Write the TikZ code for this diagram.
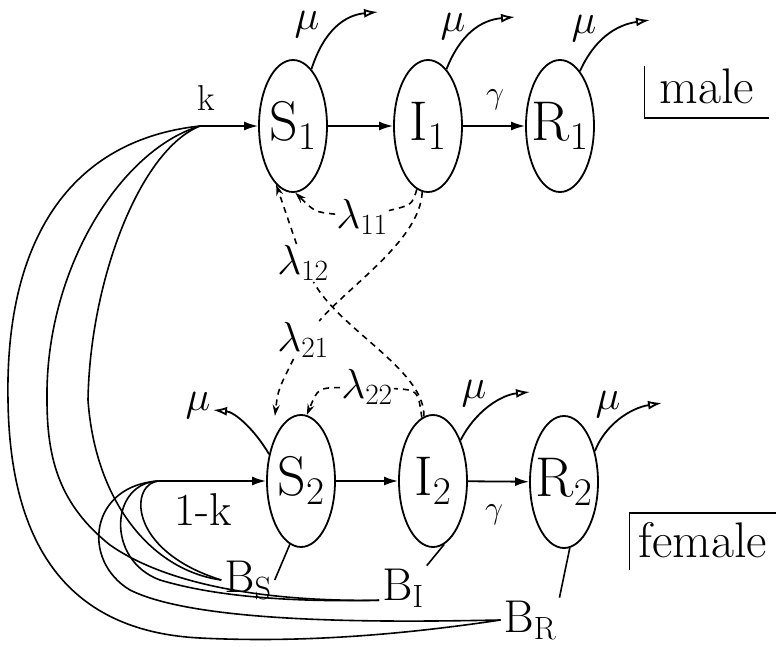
\RequirePackage{fix-cm}
\documentclass[tikz,border=0pt]{standalone}
\usepackage{amsmath}
\usetikzlibrary{arrows.meta,shapes.geometric}

\tikzset{
  comp/.style={draw, ellipse, line width=1.8pt, minimum width=68pt, minimum height=132pt,
    inner xsep=-12pt, inner ysep=0pt, font=\fontsize{56}{60}\selectfont},
  flow/.style={line width=1.8pt, -{Latex[length=14pt,width=9pt]}},
  death/.style={line width=1.8pt, -{Latex[open,length=14pt,width=9pt]}},
  contact/.style={line width=1.6pt, dash pattern=on 6pt off 5pt},
  infect/.style={contact, -{Stealth[length=11pt,width=7pt]}},
  birth/.style={line width=1.6pt},
  rate/.style={inner sep=1pt, font=\fontsize{42}{46}\selectfont},
  blab/.style={inner sep=3pt, font=\fontsize{46}{50}\selectfont},
  sexlab/.style={inner ysep=0pt, font=\fontsize{50}{56}\selectfont},
}

\begin{document}
\begin{tikzpicture}[x=1pt,y=-1pt]
    \useasboundingbox (0,0) rectangle (780,646);

    % compartments
    \node[comp] (s1) at (293,126) {$\mathrm{S}_1$};
    \node[comp] (i1) at (428,126) {$\mathrm{I}_1$};
    \node[comp] (r1) at (560,126) {$\mathrm{R}_1$};

    \node[comp] (s2) at (301,481) {$\mathrm{S}_2$};
    \node[comp] (i2) at (433,481) {$\mathrm{I}_2$};
    \node[comp] (r2) at (564,482) {$\mathrm{R}_2$};

    % births
    \coordinate (kpt) at (200,126);
    \coordinate (lpt) at (160,481);
    \node[font=\fontsize{36}{40}\selectfont] (k) at (206,98) {k};
    \node[font=\fontsize{46}{50}\selectfont] (onek) at (203,510) {1-k};

    \node[blab] (bs) at (248,580) {$\mathrm{B}_\mathrm{S}$};
    \node[blab] (bi) at (403,588) {$\mathrm{B}_\mathrm{I}$};
    \node[blab] (br) at (530,620) {$\mathrm{B}_\mathrm{R}$};

    \draw[flow] (kpt) -- (s1);
    \draw[flow] (lpt) -- (s2);

    \draw[birth] (bs.west) .. controls (150,570) and (95,500) .. (88,400)
        .. controls (90,280) and (140,150) .. (kpt);
    \draw[birth] (bi.base west) .. controls (250,602) and (160,580) .. (110,545)
        .. controls (60,505) and (47,460) .. (47,400)
        .. controls (45,270) and (120,150) .. (kpt);
    \draw[birth] (br.west) .. controls (400,635) and (300,643) .. (200,638)
        .. controls (80,632) and (10,560) .. (8,400)
        .. controls (5,240) and (70,140) .. (kpt);

    \draw[birth] (lpt) .. controls (130,481) and (125,550) .. (bs.west);
    \draw[birth] (lpt) .. controls (110,481) and (105,560) .. (160,580)
        .. controls (220,598) and (300,602) .. (bi.base west);
    \draw[birth] (lpt) .. controls (90,484) and (80,560) .. (130,590)
        .. controls (200,625) and (400,622) .. (br.west);

    \draw[birth] (s2.-100) -- (bs.east);
    \draw[birth] (i2.-80) -- (bi.north east);
    \draw[birth] (r2.-85) -- (br.north east);

    % progression
    \draw[flow] (s1) -- (i1);
    \draw[flow] (i1) -- (r1);
    \draw[flow] (s2) -- (i2);
    \draw[flow] (i2) -- (r2);
    \node[font=\fontsize{32}{36}\selectfont] (g1) at (495,100) {$\gamma$};
    \node[font=\fontsize{32}{36}\selectfont] (g2) at (494,515) {$\gamma$};

    % deaths
    \node[rate] (mus1) at (307,25) {$\mu$};
    \node[rate] (mui1) at (453,27) {$\mu$};
    \node[rate] (mur1) at (584,29) {$\mu$};
    \node[rate] (mus2) at (198,406) {$\mu$};
    \node[rate] (mui2) at (474,394) {$\mu$};
    \node[rate] (mur2) at (608,405) {$\mu$};

    \coordinate (ds1) at (378,12);
    \coordinate (di1) at (515,17);
    \coordinate (dr1) at (650,20);
    \coordinate (ds2) at (213,410);
    \coordinate (di2) at (530,392);
    \coordinate (dr2) at (662,403);

    \draw[death] (s1.72) .. controls (324,30) and (345,15) .. (ds1);
    \draw[death] (i1.72) .. controls (460,35) and (480,20) .. (di1);
    \draw[death] (r1.70) .. controls (594,40) and (615,25) .. (dr1);
    \draw[death] (s2.140) .. controls (255,430) and (235,412) .. (ds2);
    \draw[death] (i2.56) .. controls (475,412) and (500,395) .. (di2);
    \draw[death] (r2.45) .. controls (605,425) and (630,408) .. (dr2);

    % infection
    \node[rate] (l11) at (362,217) {$\lambda_{11}$};
    \node[rate] (l12) at (303,263) {$\lambda_{12}$};
    \node[rate] (l21) at (303,340) {$\lambda_{21}$};
    \node[rate] (l22) at (367,387) {$\lambda_{22}$};

    \draw[contact] (i1.-100) .. controls (412,205) .. (l11);
    \draw[infect] (l11) .. controls (315,212) .. (s1.-88);
    \draw[contact] (i1.-95) .. controls (420,240) and (350,285) .. (l21);
    \draw[infect, shorten >=30pt] (l21) .. controls (278,390) .. (s2.130);
    \draw[contact] (i2.98) .. controls (425,370) and (340,330) .. (l12);
    \draw[infect] (l12) -- (s1.-106);
    \draw[contact] (i2.100) .. controls (418,390) .. (l22);
    \draw[infect] (l22) .. controls (318,388) .. (s2.85);

    % sexes
    \node[sexlab, inner xsep=15pt, text height=37pt, text depth=15pt, anchor=base] (male) at (707,103) {male};
    \draw[birth] (male.north west) |- (male.south east);
    \node[sexlab, inner xsep=9pt, text height=44pt, text depth=13pt, anchor=base] (female) at (703,557) {female};
    \draw[birth] (female.south west) |- (female.north east);
\end{tikzpicture}
\end{document}
